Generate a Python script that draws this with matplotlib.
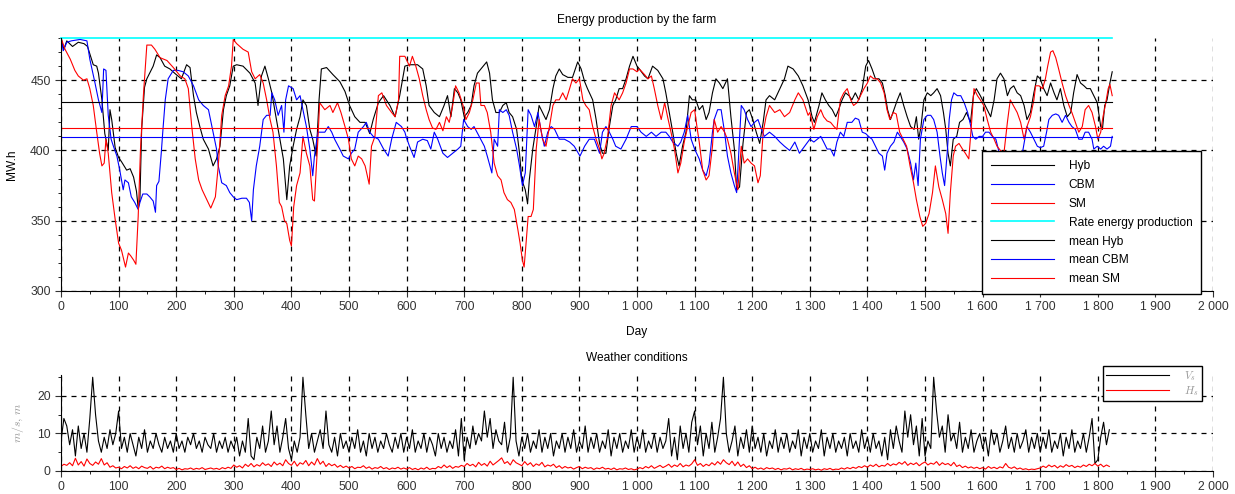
import numpy as np
import matplotlib
matplotlib.use("Agg")
import matplotlib.pyplot as plt
from matplotlib.ticker import MultipleLocator, FuncFormatter

plt.rcParams['font.family'] = ['Liberation Sans', 'DejaVu Sans']
plt.rcParams['mathtext.fontset'] = 'cm'

# ---- energy production (day, MW.h) ----
hyb_day = [0, 5, 10, 20, 30, 40, 46, 56, 62, 65, 71, 76, 82, 85, 88, 94, 100, 105, 114, 120, 126, 131, 134, 137, 140, 145, 149, 160, 166, 172, 180, 189, 200, 209, 218, 224, 230, 235, 241, 247, 256, 264, 270, 276, 282, 287, 293, 299, 305, 316, 328, 337, 342, 348, 354, 360, 366, 371, 380, 386, 392, 397, 403, 409, 415, 420, 426, 432, 437, 443, 448, 452, 461, 472, 484, 493, 501, 510, 519, 528, 536, 542, 551, 560, 571, 580, 588, 597,
           605, 619, 628, 634, 639, 648, 657, 665, 671, 677, 683, 689, 694, 700, 706, 712, 717, 723, 729, 735, 739, 744, 749, 755, 761, 767, 773, 778, 784, 791, 796, 800, 806, 810, 813, 819, 825, 830, 836, 842, 848, 854, 859, 865, 871, 880, 888, 897, 903, 909, 914, 923, 929, 935, 940, 946, 952, 958, 963, 969, 975, 981, 987, 993, 1000, 1004, 1013, 1019, 1027, 1036, 1045, 1050, 1056, 1062, 1068, 1073, 1079, 1085, 1091, 1096, 1102, 1108, 1114, 1120, 1125, 1131, 1137, 1143, 1149, 1157, 1163, 1169, 1173, 1178, 1184, 1190, 1195, 1201, 1207, 1213, 1219, 1224, 1230, 1239, 1248, 1256, 1262, 1271, 1280, 1288, 1297,
           1304, 1308, 1316, 1321, 1327, 1333, 1339, 1345, 1350, 1356, 1362, 1368, 1373, 1379, 1385, 1391, 1397, 1402, 1408, 1414, 1420, 1426, 1431, 1435, 1440, 1446, 1452, 1457, 1463, 1469, 1475, 1481, 1485, 1489, 1493, 1498, 1504, 1510, 1515, 1521, 1527, 1532, 1536, 1540, 1544, 1549, 1555, 1560, 1566, 1572, 1579, 1584, 1589, 1596, 1602, 1608, 1614, 1620, 1625, 1631, 1637, 1643, 1648, 1654, 1660, 1666, 1672, 1677, 1683, 1689, 1695, 1700, 1706, 1712, 1718, 1724, 1729, 1735, 1741, 1747, 1753, 1758, 1764, 1770, 1776, 1781, 1787, 1793, 1799, 1805, 1808, 1812, 1816, 1821, 1825]
hyb_val = [480, 472, 478, 474, 477, 476, 474, 461, 460, 455, 436, 412, 400, 429, 422, 402, 395, 392, 386, 387, 381, 371, 359, 365, 415, 445, 451, 460, 468, 466, 460, 458, 454, 451, 461, 459, 439, 427, 417, 408, 401, 389, 394, 403, 429, 439, 446, 460, 461, 460, 455, 448, 432, 453, 460, 451, 441, 429, 408, 394, 365, 389, 403, 415, 424, 436, 432, 415, 408, 396, 436, 458, 459, 454, 449, 442, 432, 424, 420, 420, 412, 422, 434, 439, 432, 424, 439, 460,
           461, 461, 458, 446, 432, 427, 424, 432, 439, 424, 444, 441, 436, 424, 427, 432, 446, 455, 458, 461, 463, 455, 436, 427, 427, 432, 434, 427, 424, 415, 398, 379, 372, 362, 379, 401, 417, 432, 427, 422, 429, 444, 453, 458, 454, 452, 452, 463, 458, 449, 444, 436, 422, 405, 398, 398, 417, 432, 436, 444, 444, 451, 460, 467, 460, 458, 453, 451, 460, 457, 451, 441, 427, 413, 398, 389, 403, 413, 439, 436, 436, 429, 432, 422, 427, 441, 451, 448, 444, 451, 424, 401, 372, 374, 405, 427, 429, 422, 413, 405, 420, 436, 439, 436, 444, 451, 460, 458, 453, 446, 436,
           424, 420, 432, 441, 436, 432, 429, 424, 429, 436, 441, 439, 436, 441, 436, 444, 460, 464, 458, 451, 451, 448, 439, 429, 422, 429, 436, 441, 432, 424, 417, 415, 424, 408, 417, 436, 441, 439, 441, 444, 439, 427, 415, 398, 389, 408, 410, 420, 422, 427, 420, 439, 444, 439, 434, 429, 424, 436, 451, 455, 451, 439, 444, 446, 441, 439, 432, 422, 427, 441, 453, 451, 444, 439, 448, 441, 436, 444, 432, 424, 427, 441, 454, 448, 446, 444, 444, 439, 434, 417, 415, 432, 436, 448, 456]

cbm_day = [0, 4, 10, 18, 33, 45, 50, 59, 65, 71, 74, 78, 82, 87, 91, 97, 102, 108, 111, 117, 122, 128, 134, 137, 142, 149, 154, 160, 164, 166, 170, 174, 177, 181, 186, 195, 203, 212, 221, 230, 239, 247, 256, 262, 270, 273, 279, 287, 293, 299, 305, 314, 322, 327, 331, 334, 339, 345, 351, 357, 363, 366, 371, 377, 383, 387, 390, 395, 403, 409, 415, 420, 426, 432, 437, 440, 446, 452, 458, 464, 470, 475, 484, 490, 499, 504, 510, 516, 525, 530, 536, 542, 551, 560, 568, 574, 582, 591, 597,
           599, 605, 613, 619, 628, 636, 642, 648, 654, 663, 671, 680, 689, 694, 699, 706, 712, 717, 726, 735, 740, 748, 752, 758, 761, 767, 773, 778, 784, 791, 796, 801, 806, 811, 816, 822, 828, 833, 839, 845, 851, 857, 865, 874, 883, 891, 901, 909, 917, 926, 935, 940, 946, 952, 958, 963, 972, 981, 990, 1000, 1007, 1016, 1025, 1033, 1042, 1050, 1056, 1062, 1071, 1076, 1082, 1088, 1094, 1100, 1108, 1114, 1120, 1125, 1131, 1134, 1140, 1146, 1152, 1157, 1163, 1169, 1173, 1178, 1181, 1186, 1192, 1198, 1204, 1210, 1216, 1221, 1230, 1239, 1248, 1256, 1265, 1274, 1282, 1291, 1300,
           1307, 1313, 1319, 1324, 1330, 1336, 1342, 1347, 1353, 1359, 1365, 1373, 1379, 1385, 1391, 1397, 1402, 1408, 1414, 1420, 1426, 1430, 1434, 1440, 1446, 1452, 1457, 1463, 1469, 1475, 1480, 1484, 1488, 1492, 1498, 1504, 1510, 1515, 1521, 1526, 1530, 1534, 1539, 1542, 1546, 1550, 1556, 1562, 1568, 1574, 1578, 1583, 1588, 1594, 1600, 1605, 1611, 1617, 1623, 1629, 1637, 1650, 1660, 1669, 1677, 1683, 1689, 1695, 1700, 1706, 1711, 1715, 1721, 1727, 1732, 1738, 1744, 1750, 1755, 1761, 1767, 1773, 1778, 1784, 1790, 1793, 1799, 1805, 1810, 1816, 1822, 1825]
cbm_val = [480, 471, 477, 478, 479, 478, 465, 448, 436, 427, 458, 457, 425, 408, 403, 396, 386, 372, 379, 377, 367, 363, 358, 363, 369, 369, 367, 364, 356, 375, 378, 398, 415, 436, 451, 457, 457, 456, 453, 446, 436, 432, 429, 417, 401, 389, 377, 375, 370, 367, 365, 366, 366, 363, 350, 372, 389, 403, 422, 425, 425, 441, 436, 425, 432, 413, 436, 446, 444, 436, 439, 429, 417, 401, 382, 396, 413, 413, 413, 417, 413, 408, 401, 396, 394, 398, 401, 413, 417, 420, 413, 410, 408, 401, 396, 408, 420, 417, 413,
           410, 403, 395, 406, 408, 407, 401, 413, 408, 398, 395, 398, 401, 403, 422, 417, 415, 417, 410, 403, 396, 384, 408, 403, 429, 427, 429, 425, 413, 401, 389, 375, 384, 429, 425, 417, 427, 415, 403, 413, 417, 415, 408, 408, 406, 403, 396, 403, 408, 408, 398, 413, 417, 413, 408, 403, 401, 408, 417, 417, 413, 410, 413, 410, 413, 413, 410, 406, 403, 406, 413, 425, 408, 401, 394, 386, 382, 390, 413, 422, 429, 429, 413, 396, 384, 375, 370, 408, 432, 429, 422, 417, 420, 422, 415, 410, 413, 410, 406, 403, 400, 406, 398, 403, 408,
           406, 408, 410, 406, 401, 401, 396, 406, 413, 410, 420, 420, 423, 422, 413, 412, 410, 408, 403, 398, 396, 386, 398, 403, 406, 413, 410, 406, 401, 391, 379, 391, 375, 408, 422, 425, 425, 422, 413, 396, 384, 375, 401, 422, 436, 441, 439, 439, 434, 427, 420, 410, 408, 410, 410, 413, 413, 410, 408, 398, 396, 392, 393, 398, 417, 413, 408, 403, 402, 403, 413, 422, 425, 426, 425, 420, 425, 420, 417, 415, 408, 408, 413, 413, 408, 401, 403, 401, 403, 401, 403, 410]

sm_day = [0, 7, 16, 24, 30, 39, 45, 50, 56, 62, 67, 71, 75, 78, 82, 88, 94, 100, 105, 112, 117, 121, 126, 130, 134, 138, 143, 149, 157, 163, 172, 184, 195, 207, 215, 221, 227, 233, 239, 245, 253, 260, 268, 273, 279, 285, 291, 296, 299, 305, 316, 325, 331, 337, 345, 351, 357, 363, 368, 374, 379, 383, 388, 392, 397, 400, 404, 409, 415, 420, 426, 432, 437, 440, 446, 449, 458, 467, 472, 480, 486, 493, 499, 504, 510, 516, 522, 528, 535, 539, 545, 551, 557, 565, 574, 580, 586, 588, 597,
          605, 610, 616, 622, 628, 634, 639, 645, 651, 657, 663, 669, 674, 680, 685, 691, 698, 703, 709, 715, 721, 726, 729, 735, 740, 746, 752, 758, 764, 769, 775, 781, 787, 793, 797, 801, 804, 807, 811, 816, 820, 825, 830, 836, 842, 848, 854, 859, 865, 871, 877, 883, 888, 894, 900, 906, 911, 917, 923, 929, 935, 939, 943, 949, 955, 961, 969, 975, 981, 987, 993, 1000, 1004, 1013, 1019, 1025, 1030, 1036, 1042, 1048, 1053, 1059, 1065, 1071, 1076, 1082, 1088, 1094, 1100, 1104, 1108, 1114, 1120, 1125, 1131, 1134, 1140, 1146, 1152, 1157, 1163, 1169, 1175, 1181, 1186, 1192, 1198, 1204, 1210, 1214, 1219, 1224, 1230, 1239, 1248, 1256, 1265, 1274, 1280, 1288, 1297,
          1300, 1307, 1313, 1319, 1324, 1330, 1336, 1342, 1347, 1353, 1359, 1365, 1371, 1376, 1382, 1388, 1394, 1400, 1405, 1411, 1417, 1423, 1429, 1434, 1439, 1445, 1450, 1456, 1462, 1468, 1474, 1480, 1485, 1491, 1496, 1501, 1507, 1513, 1518, 1524, 1530, 1536, 1540, 1544, 1549, 1553, 1559, 1565, 1570, 1576, 1580, 1585, 1591, 1596, 1602, 1608, 1614, 1620, 1625, 1631, 1637, 1643, 1648, 1660, 1666, 1672, 1677, 1683, 1689, 1692, 1698, 1704, 1709, 1713, 1718, 1722, 1727, 1732, 1738, 1744, 1750, 1755, 1761, 1767, 1773, 1778, 1784, 1790, 1796, 1800, 1805, 1809, 1813, 1818, 1821, 1825]
sm_val = [480, 472, 465, 457, 453, 450, 451, 444, 432, 413, 398, 389, 391, 408, 398, 370, 351, 334, 329, 317, 327, 325, 322, 319, 353, 401, 439, 475, 475, 472, 466, 464, 459, 453, 451, 444, 417, 394, 379, 372, 365, 359, 367, 389, 425, 439, 446, 460, 479, 476, 472, 470, 456, 451, 454, 448, 436, 422, 413, 389, 363, 360, 350, 348, 336, 332, 360, 375, 384, 410, 398, 389, 365, 364, 408, 434, 429, 432, 427, 434, 427, 417, 408, 394, 389, 396, 394, 389, 376, 403, 410, 439, 441, 432, 427, 424, 436, 467, 467,
          460, 467, 460, 451, 439, 429, 422, 416, 415, 420, 414, 424, 420, 432, 446, 441, 432, 422, 427, 436, 448, 448, 432, 432, 427, 413, 391, 382, 379, 370, 365, 363, 358, 344, 334, 322, 317, 332, 353, 353, 358, 401, 422, 408, 403, 417, 432, 436, 436, 441, 436, 444, 451, 448, 451, 436, 432, 429, 417, 408, 401, 394, 398, 410, 432, 441, 436, 441, 448, 458, 458, 456, 458, 454, 451, 453, 444, 432, 422, 434, 424, 413, 401, 384, 391, 406, 417, 427, 429, 417, 406, 386, 379, 382, 403, 422, 413, 417, 413, 408, 398, 384, 372, 403, 391, 394, 391, 389, 377, 382, 413, 424, 432, 427, 429, 424, 427, 436, 441, 436, 425,
          427, 415, 424, 429, 424, 421, 420, 417, 415, 436, 441, 444, 436, 432, 434, 439, 444, 448, 453, 451, 451, 448, 441, 429, 422, 427, 426, 413, 408, 403, 389, 377, 365, 353, 346, 348, 355, 370, 389, 374, 365, 355, 341, 370, 396, 403, 405, 401, 398, 394, 415, 444, 439, 436, 432, 422, 413, 408, 403, 400, 398, 420, 436, 427, 420, 408, 417, 424, 436, 446, 446, 444, 451, 460, 470, 471, 466, 458, 448, 439, 432, 427, 420, 413, 417, 429, 432, 427, 417, 408, 413, 424, 432, 444, 447, 439]

rate_prod = 480
mean_hyb = 434.5
mean_cbm = 409.6
mean_sm = 416.3
n_days = 1825

# ---- weather (one value every 5 days, from day 0) ----
vs = [8, 14, 12, 7, 11, 4, 12, 6, 10, 5, 14, 25, 15, 8, 5, 9, 6, 11, 7, 10,
      16, 6, 9, 5, 10, 7, 4, 9, 6, 11, 5, 8, 6, 10, 7, 5, 9, 6, 8, 5,
      10, 6, 8, 5, 9, 7, 10, 6, 8, 5, 9, 7, 6, 10, 5, 8, 6, 9, 5, 8,
      6, 9, 4, 8, 5, 14, 4, 3, 9, 6, 12, 5, 8, 16, 7, 12, 5, 9, 14, 6,
      3, 8, 5, 9, 25, 15, 6, 10, 5, 8, 11, 6, 16, 7, 5, 9, 4, 10, 6, 8,
      5, 9, 6, 11, 5, 8, 4, 10, 6, 9, 5, 8, 6, 10, 7, 5, 9, 6, 10, 5,
      9, 6, 11, 5, 8, 6, 10, 5, 9, 7, 4, 10, 6, 9, 5, 8, 6, 11, 4, 14,
      3, 9, 6, 12, 7, 10, 8, 16, 9, 14, 6, 11, 8, 7, 13, 5, 9, 25, 8, 4,
      9, 6, 10, 5, 8, 6, 11, 5, 9, 6, 10, 4, 8, 6, 10, 5, 9, 6, 11, 5,
      8, 6, 12, 5, 9, 6, 10, 5, 8, 6, 11, 4, 9, 6, 10, 5, 8, 6, 11, 5,
      9, 6, 11, 5, 8, 6, 10, 5, 9, 6, 8, 14, 4, 9, 3, 12, 6, 10, 5, 13,
      16, 7, 12, 4, 10, 6, 13, 5, 9, 14, 25, 10, 5, 8, 12, 4, 9, 6, 11, 5,
      12, 6, 9, 5, 10, 4, 8, 6, 11, 5, 9, 6, 10, 5, 8, 6, 11, 4, 9, 6,
      10, 5, 8, 6, 11, 4, 9, 6, 10, 5, 8, 6, 9, 4, 10, 6, 8, 5, 11, 6,
      9, 5, 10, 6, 8, 4, 9, 3, 11, 6, 12, 8, 5, 16, 9, 15, 7, 12, 4, 14,
      4, 8, 6, 25, 16, 9, 12, 5, 15, 8, 10, 6, 13, 5, 9, 6, 11, 5, 8, 10,
      6, 9, 4, 11, 7, 10, 5, 8, 12, 6, 9, 5, 10, 6, 8, 11, 5, 9, 6, 10,
      5, 9, 6, 11, 5, 8, 6, 10, 4, 9, 6, 11, 5, 8, 6, 10, 5, 9, 14, 2,
      3, 9, 13, 7, 11]
hs = [1.2, 1.8, 1.5, 2.2, 1.4, 3.4, 1.6, 2.5, 1.3, 3.2, 2.0, 1.5, 2.4, 1.8, 3.3, 1.6, 2.2, 1.0, 1.4, 0.8,
      1.0, 0.6, 1.2, 0.8, 1.4, 0.7, 1.1, 0.6, 1.3, 0.9, 0.7, 1.2, 0.5, 1.0, 0.8, 1.3, 0.6, 1.0, 0.7, 0.9,
      0.4, 0.7, 0.3, 0.6, 0.5, 0.8, 0.4, 0.7, 0.5, 0.9, 0.4, 0.6, 0.8, 0.5, 0.7, 0.4, 0.9, 0.6, 1.0, 0.7,
      1.6, 1.0, 1.4, 0.8, 1.8, 1.2, 2.0, 1.1, 1.7, 1.3, 2.2, 1.5, 1.9, 1.2, 2.4, 1.6, 2.1, 1.4, 3.0, 2.0,
      1.5, 2.6, 1.3, 2.2, 1.8, 2.8, 1.4, 2.4, 1.6, 3.3, 1.8, 2.6, 1.2, 2.0, 1.4, 1.8, 1.0, 1.5, 0.9, 1.3,
      0.8, 1.2, 0.6, 1.0, 0.9, 1.4, 0.7, 1.1, 0.5, 0.9, 0.7, 1.2, 0.6, 0.9, 0.4, 0.8, 0.6, 1.0, 0.5, 0.8,
      0.5, 0.9, 0.4, 0.7, 0.3, 0.8, 0.5, 1.0, 0.4, 0.7, 0.6, 1.2, 0.8, 1.6, 0.9, 1.4, 0.7, 1.2, 1.0, 1.5,
      1.2, 2.0, 1.4, 1.8, 1.1, 2.3, 1.5, 2.0, 1.3, 2.6, 1.6, 2.2, 2.8, 3.5, 2.0, 2.5, 1.6, 3.0, 2.2, 1.8,
      1.4, 2.5, 1.6, 2.2, 1.2, 1.9, 1.5, 2.3, 1.1, 1.6, 1.3, 1.8, 0.9, 1.4, 0.7, 1.2, 0.8, 1.0, 0.5, 0.9,
      1.2, 0.6, 1.0, 0.7, 0.9, 0.4, 0.8, 0.6, 1.0, 0.5, 0.7, 0.4, 0.8, 0.3, 0.6, 0.5, 0.8, 0.4, 0.6, 0.3,
      0.5, 0.9, 0.6, 1.2, 0.8, 1.4, 0.7, 1.1, 1.5, 0.9, 1.3, 1.8, 1.0, 1.6, 1.2, 2.0, 1.1, 1.6, 1.3, 1.9,
      3.0, 1.5, 2.0, 1.2, 1.8, 1.4, 2.2, 1.6, 2.5, 1.8, 3.0, 2.2, 1.7, 2.6, 1.4, 2.4, 1.2, 1.8, 0.9, 1.4,
      0.6, 1.0, 0.5, 0.8, 0.4, 0.9, 0.6, 0.8, 0.4, 0.7, 0.3, 0.6, 0.5, 0.8, 0.3, 0.6, 0.4, 0.7, 0.3, 0.5,
      0.4, 0.6, 0.3, 0.5, 0.2, 0.6, 0.4, 0.7, 0.3, 0.5, 0.4, 0.8, 0.5, 0.9, 0.6, 1.0, 0.7, 1.2, 0.9, 1.4,
      1.0, 1.6, 1.2, 1.8, 1.1, 1.5, 1.3, 2.0, 1.4, 1.9, 1.6, 2.3, 1.8, 2.5, 1.5, 2.1, 1.7, 2.2, 1.4, 2.0,
      2.4, 1.6, 2.1, 1.8, 2.5, 1.5, 2.2, 1.7, 2.0, 1.4, 2.3, 1.2, 1.6, 0.9, 1.3, 0.8, 1.1, 0.7, 1.0, 0.6,
      0.9, 0.5, 1.2, 0.7, 1.0, 0.6, 1.1, 0.8, 2.0, 1.0, 0.7, 1.1, 0.5, 0.8, 0.4, 0.6, 0.3, 0.5, 0.4, 0.6,
      0.8, 1.3, 0.9, 1.6, 1.1, 1.5, 0.8, 1.4, 1.0, 1.7, 1.2, 1.5, 0.9, 1.3, 1.0, 1.6, 1.2, 1.8, 1.4, 2.0,
      1.3, 1.8, 1.1, 1.6, 1.2]
weather_day = np.arange(len(vs)) * 5


def thousands(x, pos):
    return "{:,}".format(int(round(x))).replace(",", " ")


def style_axes(ax, ymajor, yminor):
    for side in ("top", "right"):
        ax.spines[side].set_visible(False)
    ax.set_xlim(0, 2000)
    ax.xaxis.set_major_locator(MultipleLocator(100))
    ax.xaxis.set_minor_locator(MultipleLocator(50))
    ax.yaxis.set_major_locator(MultipleLocator(ymajor))
    ax.yaxis.set_minor_locator(MultipleLocator(yminor))
    ax.xaxis.set_major_formatter(FuncFormatter(thousands))
    ax.tick_params(axis="both", which="major", direction="out", length=4, labelsize=8.7, colors="#333333")
    ax.tick_params(axis="both", which="minor", direction="out", length=2)
    ax.grid(True, which="major", color="black", linestyle=(0, (4, 4)), linewidth=0.9)
    ax.set_axisbelow(True)


fig = plt.figure(figsize=(12.35, 4.94), dpi=100)
ax1 = fig.add_axes([0.0494, 0.411, 0.9328, 0.512])
ax2 = fig.add_axes([0.0494, 0.0466, 0.9328, 0.1943])

lw = 0.8
ax1.plot(hyb_day, hyb_val, color="black", lw=lw, label="Hyb")
ax1.plot(cbm_day, cbm_val, color="blue", lw=lw, label="CBM")
ax1.plot(sm_day, sm_val, color="red", lw=lw, label="SM")
ax1.plot([0, n_days], [rate_prod, rate_prod], color="cyan", lw=1.2, label="Rate energy production", clip_on=False)
ax1.plot([0, n_days], [mean_hyb, mean_hyb], color="black", lw=lw, label="mean Hyb")
ax1.plot([0, n_days], [mean_cbm, mean_cbm], color="blue", lw=lw, label="mean CBM")
ax1.plot([0, n_days], [mean_sm, mean_sm], color="red", lw=lw, label="mean SM")
style_axes(ax1, 50, 10)
ax1.set_ylim(300, 480)
ax1.set_title("Energy production by the farm", fontsize=8.6, pad=11)
ax1.set_xlabel("Day", fontsize=8.6, labelpad=9)
ax1.set_ylabel("MW.h", fontsize=8.6, labelpad=9)
leg1 = ax1.legend(loc="lower right", bbox_to_anchor=(0.9896, -0.012), fontsize=8.6,
                  handlelength=5.3, handletextpad=1.2, labelspacing=0.58, borderaxespad=0,
                  fancybox=False, framealpha=1, edgecolor="black", borderpad=0.72)
leg1.get_frame().set_linewidth(1.0)
leg1.set_zorder(5)

ax2.plot(weather_day, vs, color="black", lw=0.8, label="$V_s$")
ax2.plot(weather_day, hs, color="red", lw=0.8, label="$H_s$")
style_axes(ax2, 10, 5)
ax2.set_ylim(0, 25.6)
ax2.set_title("Weather conditions", fontsize=8.6, pad=10)
ax2.set_ylabel("$m/s,\\,m$", fontsize=8.5, color="#999999", labelpad=8)
leg2 = ax2.legend(loc="upper right", bbox_to_anchor=(0.9905, 1.094), fontsize=8,
                  handlelength=5.6, handletextpad=1.4, labelspacing=0.05, borderaxespad=0,
                  fancybox=False, framealpha=1, edgecolor="black", borderpad=0.3)
leg2.get_frame().set_linewidth(1.0)
for t in leg2.get_texts():
    t.set_color("#999999")

fig.savefig("out.png", dpi=100)
